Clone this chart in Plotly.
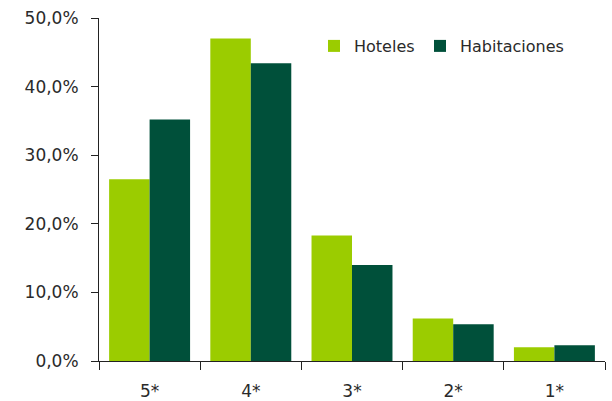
import plotly.graph_objects as go

categorias = ["5*", "4*", "3*", "2*", "1*"]
hoteles = [26.5, 47.0, 18.3, 6.2, 2.0]
habitaciones = [35.2, 43.4, 14.0, 5.35, 2.3]

verde_claro = "#9BCC00"
verde_oscuro = "#00503A"
fuente = "'DejaVu Sans', sans-serif"
texto = "#2a2a2a"

fig = go.Figure()
fig.add_trace(go.Bar(x=categorias, y=hoteles, name="Hoteles",
                     marker=dict(color=verde_claro, line=dict(width=0)),
                     showlegend=True, legend="legend"))
fig.add_trace(go.Bar(x=categorias, y=habitaciones, name="Habitaciones",
                     marker=dict(color=verde_oscuro, line=dict(width=0)),
                     showlegend=True, legend="legend2"))

leyenda = dict(orientation="h", bgcolor="rgba(0,0,0,0)", itemwidth=30,
               font=dict(family=fuente, size=16, color=texto),
               xref="paper", yref="paper", xanchor="left", yanchor="middle",
               visible=True)

fig.update_layout(
    width=612, height=401,
    margin=dict(l=99, r=7, t=18, b=40, pad=0, autoexpand=False),
    paper_bgcolor="white", plot_bgcolor="white",
    separators=",.",
    barmode="group", bargap=0.2, bargroupgap=0,
    showlegend=True,
    font=dict(family=fuente, size=17, color=texto),
    legend=dict(leyenda, x=(314 - 99) / 506, y=(361 - 46) / 343),
    legend2=dict(leyenda, x=(420 - 99) / 506, y=(361 - 46) / 343),
    xaxis=dict(
        showline=True, linecolor="#222", linewidth=1,
        ticks="outside", tickson="boundaries", ticklen=8, tickcolor="#222",
        ticklabelstandoff=15, showgrid=False, automargin=False,
    ),
    yaxis=dict(
        range=[0, 50], dtick=10, tickformat=".1f", ticksuffix="%",
        showline=True, linecolor="#222", linewidth=1,
        ticks="outside", ticklen=7, tickcolor="#222",
        showgrid=False, zeroline=False, ticklabelstandoff=9,
        automargin=False,
    ),
)

fig.write_html("out.html")
